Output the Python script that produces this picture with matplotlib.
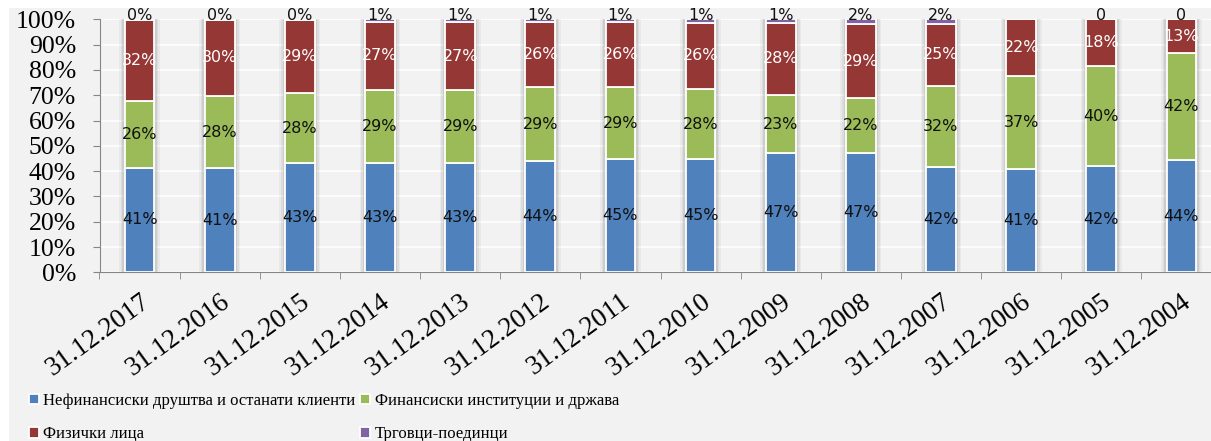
import numpy as np
import matplotlib
matplotlib.use("Agg")
import matplotlib.pyplot as plt
from matplotlib.patches import Rectangle
from matplotlib.ticker import FuncFormatter

dates = ["31.12.2017", "31.12.2016", "31.12.2015", "31.12.2014", "31.12.2013",
         "31.12.2012", "31.12.2011", "31.12.2010", "31.12.2009", "31.12.2008",
         "31.12.2007", "31.12.2006", "31.12.2005", "31.12.2004"]

# shares in percent
nefin = [41.4, 41.2, 43.2, 43.2, 43.1, 44.1, 44.6, 44.6, 47.0, 47.3, 41.7, 41.0, 41.9, 44.2]
finan = [26.2, 28.4, 27.6, 28.8, 28.9, 29.0, 28.6, 27.9, 23.2, 21.7, 31.9, 36.6, 39.7, 42.4]
fizicki = [32.3, 30.3, 29.0, 27.0, 26.8, 25.8, 25.8, 26.2, 28.4, 29.0, 24.6, 22.4, 18.4, 13.4]
trgovci = [0.1, 0.1, 0.2, 1.0, 1.2, 1.1, 1.0, 1.3, 1.4, 2.0, 1.8, 0.0, 0.0, 0.0]
trgovci_fmt = ["{:.0f}%"] * 11 + [None, "{:.0f}", "{:.0f}"]

names = ["Нефинансиски друштва и останати клиенти",
         "Финансиски институции и држава",
         "Физички лица",
         "Трговци-поединци"]
colors = ["#4f81bd", "#9bbb59", "#953735", "#8064a2"]
label_colors = ["#111111", "#111111", "white"]

serif = "Liberation Serif"
W, H = 1211, 441
fig = plt.figure(figsize=(W / 100, H / 100), dpi=100)
fig.patch.set_facecolor("white")
fig.patches.append(Rectangle((9 / W, 0), 1, 1 - 8 / H, transform=fig.transFigure,
                             facecolor="#f2f2f2", edgecolor="none", zorder=-10))

ax = fig.add_axes([99.5 / W, 1 - 272.3 / H, 1122 / W, 253 / H])
ax.set_facecolor("#f2f2f2")

x = np.arange(len(dates))
bw = 0.37
totals = np.sum([nefin, finan, fizicki, trgovci], axis=0)

# soft shadow around the columns
for extra, a in [(0.14, 0.04), (0.10, 0.05), (0.06, 0.07)]:
    ax.bar(x, totals, width=bw + extra, color="black", alpha=a, zorder=1, linewidth=0)

bottom = np.zeros(len(dates))
bars = []
for i, vals in enumerate([nefin, finan, fizicki, trgovci]):
    vals = np.array(vals)
    b = ax.bar(x, vals, width=bw, bottom=bottom, color=colors[i],
               edgecolor="white", linewidth=1.3, zorder=3, label=names[i])
    bars.append(b)
    if i < 3:
        for xi, v, b0 in zip(x, vals, bottom):
            ax.text(xi, b0 + v / 2, f"{v:.0f}%", ha="center", va="center",
                    fontsize=11.5, color=label_colors[i], zorder=5)
    bottom += vals

for xi, v, fmt in zip(x, trgovci, trgovci_fmt):
    if fmt is None:
        continue
    ax.text(xi, 101.6, fmt.format(v), ha="center", va="center",
            fontsize=11.5, color="#111111", zorder=5, clip_on=False)

ax.set_ylim(0, 100)
ax.set_xlim(-0.5, len(dates) - 0.5)
ax.set_yticks(np.arange(0, 101, 10))
ax.yaxis.set_major_formatter(FuncFormatter(lambda v, p: f"{v:.0f}%"))
ax.yaxis.grid(True, color="white", linewidth=1.2, zorder=0)
ax.set_axisbelow(True)

ax.set_xticks(x)
ax.set_xticklabels(dates, rotation=36, ha="right", rotation_mode="anchor",
                   fontsize=19.5, family=serif)
ax.set_xticks(np.arange(-0.5, len(dates) - 0.5, 1), minor=True)
ax.tick_params(axis="x", which="major", length=0, pad=12)
ax.tick_params(axis="x", which="minor", length=5, color="#868686")
ax.tick_params(axis="y", length=5, color="#868686", pad=12)
for lab in ax.get_yticklabels():
    lab.set_family(serif)
    lab.set_fontsize(18.5)

for s in ["top", "right"]:
    ax.spines[s].set_visible(False)
for s in ["left", "bottom"]:
    ax.spines[s].set_color("#868686")

fig.legend([bars[0], bars[2], bars[1], bars[3]],
           [names[0], names[2], names[1], names[3]],
           ncol=2, loc="upper left", bbox_to_anchor=(14 / W, 1 - 378 / H),
           frameon=False, prop={"family": serif, "size": 12},
           handlelength=0.6, handleheight=0.6, handletextpad=0.25,
           columnspacing=0.3, labelspacing=1.05)

fig.savefig("out.png", dpi=100)
